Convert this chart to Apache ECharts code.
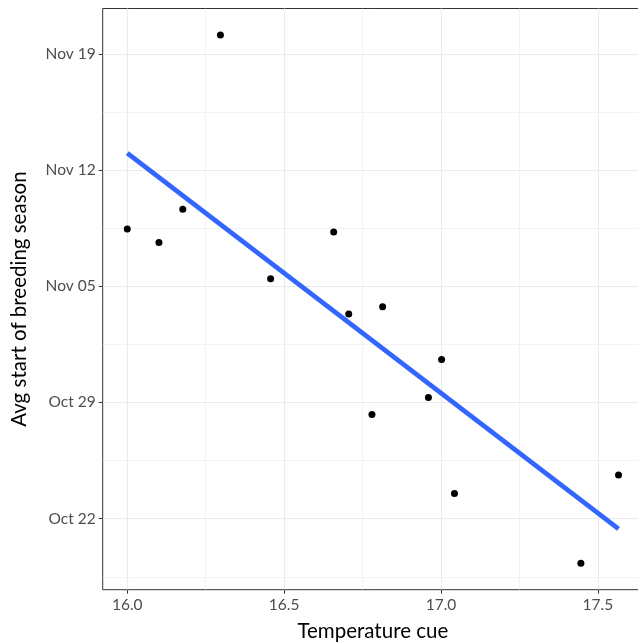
<!DOCTYPE html>
<html>
<head>
<meta charset="utf-8">
<script src="https://cdn.jsdelivr.net/npm/echarts@6/dist/echarts.min.js"></script>
<style>
html,body{margin:0;padding:0;overflow:hidden;background:#fff;}
#chart{width:646px;height:644px;}
</style>
</head>
<body>
<div id="chart"></div>
<script>
// Temperature cue (x) and avg start of breeding season, in days after Oct 22 (y)
const tempCue = [16.000, 16.101, 16.177, 16.297, 16.457, 16.658, 16.706, 16.814, 16.780, 17.002, 16.960, 17.043, 17.446, 17.566];
const startDay = [17.45, 16.64, 18.63, 29.14, 14.45, 17.27, 12.32, 12.76, 6.27, 9.59, 7.30, 1.51, -2.69, 2.63];
// fitted linear trend (endpoints)
const fitX = [16.000, 17.566];
const fitY = [22.02, -0.62];
// ticks
const xTickValues = [16.0, 16.5, 17.0, 17.5];
const xTickLabels = ['16.0', '16.5', '17.0', '17.5'];
const xMinorValues = [16.25, 16.75, 17.25];
const yTickValues = [0, 7, 14, 21, 28];
const yTickLabels = ['Oct 22', 'Oct 29', 'Nov 05', 'Nov 12', 'Nov 19'];
const yMinorValues = [-3.5, 3.5, 10.5, 17.5, 24.5];

const FONT = 'Lato';
const xMin = 15.9217, xMax = 17.644;
const yMin = -4.28, yMax = 30.73;

const gridLines = [];
xTickValues.forEach(v => gridLines.push({xAxis: v, lineStyle: {color: '#EBEBEB', width: 1.1, type: 'solid'}}));
xMinorValues.forEach(v => gridLines.push({xAxis: v, lineStyle: {color: '#EBEBEB', width: 0.6, type: 'solid'}}));
yTickValues.forEach(v => gridLines.push({yAxis: v, lineStyle: {color: '#EBEBEB', width: 1.1, type: 'solid'}}));
yMinorValues.forEach(v => gridLines.push({yAxis: v, lineStyle: {color: '#EBEBEB', width: 0.6, type: 'solid'}}));

const chart = echarts.init(document.getElementById('chart'), null, {renderer: 'canvas'});
chart.setOption({
  animation: false,
  backgroundColor: '#ffffff',
  grid: {
    left: 102.7, top: 8.5, right: 3, bottom: 54.3,
    outerBoundsMode: 'none', containLabel: false,
    show: true, borderColor: '#333333', borderWidth: 1, backgroundColor: 'transparent'
  },
  xAxis: {
    type: 'value', min: xMin, max: xMax,
    name: 'Temperature cue', nameLocation: 'middle', nameGap: 31,
    nameTextStyle: {fontFamily: FONT, fontSize: 20.5, color: '#000000'},
    axisLine: {show: false, onZero: false},
    axisTick: {show: true, length: 4, customValues: xTickValues, lineStyle: {color: '#333333', width: 1}},
    axisLabel: {
      customValues: xTickValues, margin: 7,
      fontFamily: FONT, fontSize: 15.5, color: '#4D4D4D',
      formatter: v => { const i = xTickValues.findIndex(t => Math.abs(t - v) < 1e-6); return i >= 0 ? xTickLabels[i] : ''; }
    },
    splitLine: {show: false}
  },
  yAxis: {
    type: 'value', min: yMin, max: yMax,
    name: 'Avg start of breeding season', nameLocation: 'middle', nameGap: 73,
    nameTextStyle: {fontFamily: FONT, fontSize: 20.5, color: '#000000'},
    axisLine: {show: false, onZero: false},
    axisTick: {show: true, length: 4, customValues: yTickValues, lineStyle: {color: '#333333', width: 1}},
    axisLabel: {
      customValues: yTickValues, margin: 7,
      fontFamily: FONT, fontSize: 15.5, color: '#4D4D4D',
      formatter: v => { const i = yTickValues.findIndex(t => Math.abs(t - v) < 1e-6); return i >= 0 ? yTickLabels[i] : ''; }
    },
    splitLine: {show: false}
  },
  series: [
    {
      type: 'line', data: [], z: 0, silent: true,
      markLine: {silent: true, z: 0, symbol: ['none', 'none'], label: {show: false}, animation: false, data: gridLines}
    },
    {
      type: 'scatter', z: 3, symbol: 'circle', symbolSize: 7,
      itemStyle: {color: '#000000', opacity: 1},
      data: tempCue.map((x, i) => [x, startDay[i]])
    },
    {
      type: 'line', z: 4, showSymbol: false, symbol: 'none',
      lineStyle: {color: '#3366FF', width: 4.8, cap: 'butt'},
      data: fitX.map((x, i) => [x, fitY[i]])
    }
  ]
});
</script>
</body>
</html>
